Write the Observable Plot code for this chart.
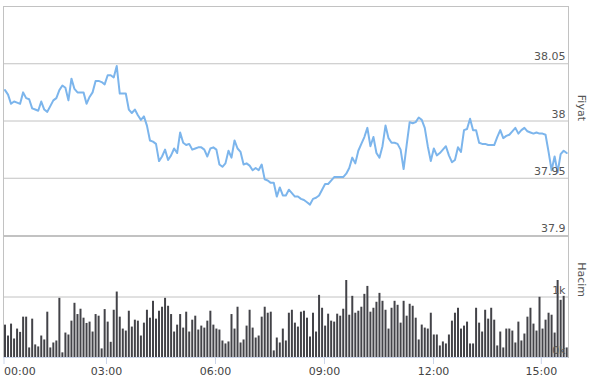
<!DOCTYPE html>
<html><head><meta charset="utf-8">
<script src="https://cdn.jsdelivr.net/npm/d3@7"></script>
<script src="https://cdn.jsdelivr.net/npm/@observablehq/plot@0.6"></script>
<style>
body{margin:0;background:#fff;}
#chart{width:591px;height:381px;}
#chart svg{display:block;}
</style>
</head><body><div id="chart"></div>
<script>
// Price (Fiyat), one point per 5-minute bar
const price = [
38.027,38.023,38.015,38.017,38.016,38.015,38.025,38.020,38.019,38.011,
38.010,38.009,38.017,38.010,38.008,38.013,38.018,38.020,38.027,38.031,
38.029,38.018,38.037,38.028,38.025,38.025,38.025,38.015,38.021,38.025,
38.035,38.035,38.034,38.032,38.040,38.040,38.038,38.048,38.024,38.024,
38.024,38.010,38.007,38.010,38.005,38.001,38.004,37.996,37.983,37.982,
37.980,37.965,37.969,37.975,37.966,37.970,37.976,37.972,37.990,37.981,
37.979,37.980,37.975,37.976,37.977,37.977,37.975,37.969,37.976,37.977,
37.975,37.962,37.960,37.963,37.974,37.968,37.983,37.976,37.973,37.962,
37.963,37.961,37.957,37.959,37.957,37.962,37.949,37.948,37.946,37.946,
37.934,37.942,37.935,37.935,37.940,37.937,37.934,37.934,37.932,
37.931,37.929,37.927,37.932,37.933,37.935,37.940,37.945,37.945,37.948,
37.951,37.951,37.951,37.951,37.954,37.959,37.968,37.963,37.974,37.980,
37.986,37.994,37.978,37.986,37.972,37.968,37.978,37.996,37.985,37.981,
37.981,37.980,37.975,37.958,37.979,37.999,37.998,37.999,38.003,38.001,
37.994,37.978,37.965,37.976,37.970,37.972,37.975,37.978,37.970,37.964,
37.966,37.977,37.973,37.992,37.993,38.002,37.992,37.992,37.981,37.980,
37.980,37.979,37.979,37.979,37.986,37.992,37.985,37.987,37.988,37.991,
37.994,37.989,37.992,37.994,37.991,37.990,37.989,37.990,37.989,37.989,
37.988,37.973,37.957,37.969,37.955,37.971,37.974,37.972
];
// Volume (Hacim)
const volume = [
535,355,552,306,470,415,667,667,158,634,
208,175,355,290,749,158,240,273,978,77,
404,372,601,896,710,798,650,563,585,421,
710,683,142,792,585,251,781,1082,667,470,
437,765,503,617,601,355,568,
781,650,929,634,765,831,978,847,710,421,
535,710,486,749,421,617,683,454,519,486,
601,765,535,470,454,273,224,257,710,470,
831,240,290,519,781,486,322,355,667,831,
732,749,109,322,240,470,
273,732,781,568,503,749,765,650,339,732,
421,1027,814,519,716,601,585,716,683,798,
1273,699,1011,732,765,831,1044,1175,749,814,
913,1060,929,781,470,814,929,863,568,929,
683,880,847,650,290,536,486,
470,732,372,372,191,257,224,372,601,732,
814,470,519,585,224,224,814,568,421,781,
634,814,617,191,421,158,470,470,437,240,
585,273,388,667,814,552,437,995,470,617,
732,699,404,1273,945,1011,158
];
// x axis ticks (bar index where each label falls) and their labels
const tickIndex = [0, 33.6, 69.7, 105.8, 141.9, 177.6];
const tickLabels = ["00:00", "03:00", "06:00", "09:00", "12:00", "15:00"];
const priceTicks = [37.9, 37.95, 38, 38.05];
const volumeTicks = [0, 1000];
const priceTitle = "Fiyat";
const volumeTitle = "Hacim";

const data = price.map((p, i) => ({i, price: p, volume: volume[i]}));
const xDomain = [-0.5, 186.6];
const font = "'DejaVu Sans', Verdana, sans-serif";
const gridColor = "#c2c2c2";
const textColor = "#555";
const fmtX = d => tickLabels[tickIndex.indexOf(d)];

const topChart = Plot.plot({
  width: 591, height: 236,
  marginTop: 6, marginBottom: 1, marginLeft: 3, marginRight: 23,
  style: {fontFamily: font, fontSize: "11px", background: "#fff", overflow: "visible"},
  x: {domain: xDomain, axis: null},
  y: {domain: [37.9, 38.1], axis: null},
  marks: [
    Plot.gridY(priceTicks.slice(1), {stroke: gridColor, strokeOpacity: 1}),
    Plot.frame({stroke: gridColor}),
    Plot.line(data, {x: "i", y: "price", stroke: "#7cb5ec", strokeWidth: 2, strokeLinejoin: "round"}),
    Plot.axisY(priceTicks, {anchor: "right", tickSize: 0, tickPadding: 0, textAnchor: "end", dx: -3, dy: -7,
      tickFormat: d => String(d), fill: textColor, label: null}),
    Plot.text([priceTitle], {frameAnchor: "right", dx: 13, rotate: 90, fill: textColor, fontSize: 11})
  ]
});

const bottomChart = Plot.plot({
  width: 591, height: 145,
  marginTop: 0, marginBottom: 24, marginLeft: 3, marginRight: 23,
  style: {fontFamily: font, fontSize: "11px", background: "#fff", overflow: "visible"},
  x: {domain: xDomain, axis: null},
  y: {domain: [0, 2000], axis: null},
  marks: [
    Plot.gridY(volumeTicks.slice(1), {stroke: gridColor, strokeOpacity: 1}),
    Plot.frame({stroke: gridColor}),
    Plot.ruleX(data, {x: "i", y1: 0, y2: "volume", stroke: "#434348", strokeWidth: 2}),
    Plot.axisY(volumeTicks, {anchor: "right", tickSize: 0, tickPadding: 0, textAnchor: "end", dx: -3, dy: -7,
      tickFormat: d => (d / 1000) + "k", fill: textColor, label: null}),
    Plot.ruleY([0], {stroke: "#ccd6eb", strokeOpacity: 1}),
    Plot.axisX(tickIndex.slice(1), {tickSize: 7, tickPadding: 3, stroke: "#ccd6eb", strokeOpacity: 1, fill: "#444",
      tickFormat: fmtX, label: null}),
    Plot.axisX(tickIndex.slice(0, 1), {tickSize: 7, tickPadding: 3, stroke: "#ccd6eb", strokeOpacity: 1, fill: "#444",
      textAnchor: "start", dx: -1, tickFormat: fmtX, label: null}),
    Plot.text([volumeTitle], {frameAnchor: "right", dx: 13, rotate: 90, fill: textColor, fontSize: 11})
  ]
});

const root = document.getElementById("chart");
root.append(topChart, bottomChart);
</script>
</body></html>
